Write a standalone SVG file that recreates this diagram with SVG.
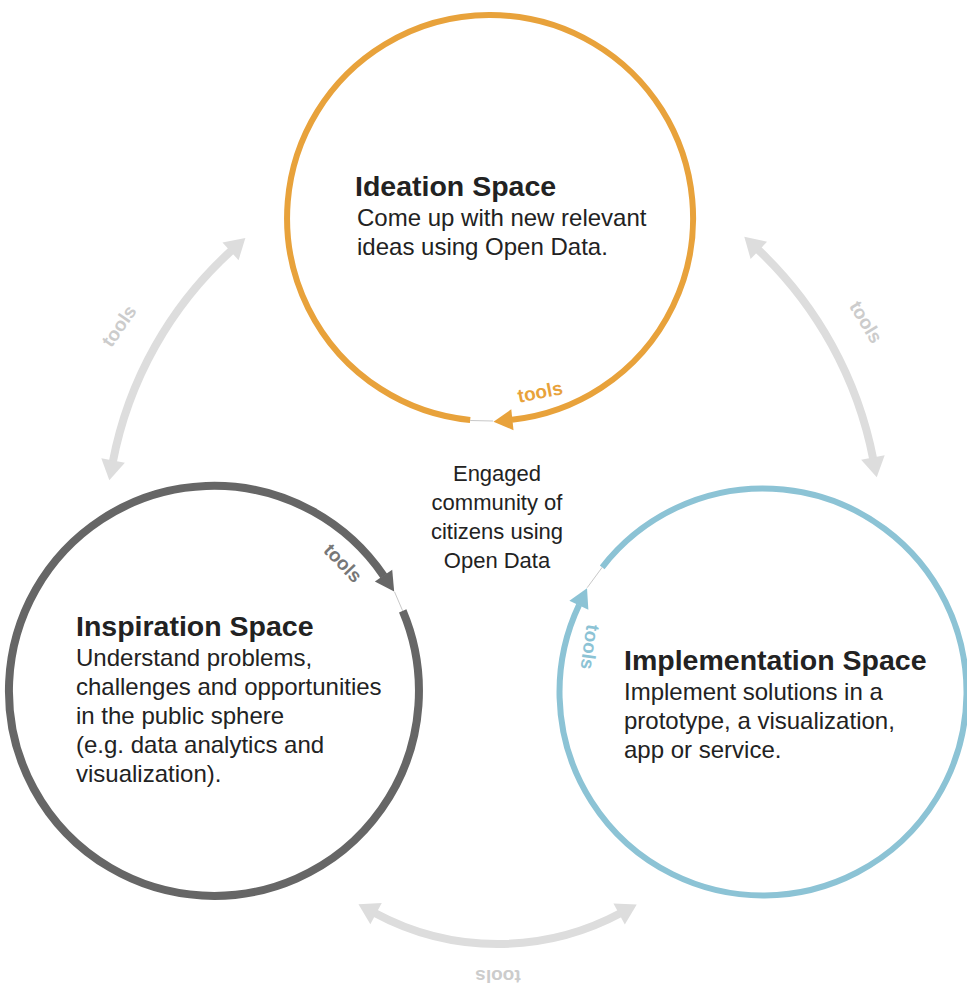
<svg xmlns="http://www.w3.org/2000/svg" width="967" height="985" viewBox="0 0 967 985">
<style>
.t{font-family:"Liberation Sans",Arial,sans-serif;fill:#222;font-size:24px}
.c{font-size:22px}
.h{font-weight:bold;font-size:28.5px}
.tl{font-family:"Liberation Sans",Arial,sans-serif;font-weight:bold;font-size:19px}
.ga{fill:none;stroke:#dddddd;stroke-width:8}
.gap{fill:none;stroke:#c8c8c8;stroke-width:1}
</style>
<defs>
<marker id="mg" viewBox="-2 -13 24 26" markerWidth="24" markerHeight="26" refX="2" refY="0" orient="auto-start-reverse" markerUnits="userSpaceOnUse"><polygon points="0,-12 20,0 0,12" fill="#dddddd"/></marker>
<marker id="mo" viewBox="-1 -11 21 22" markerWidth="21" markerHeight="22" refX="0.5" refY="0" orient="auto" markerUnits="userSpaceOnUse"><polygon points="0,-10.5 19,0 0,10.5" fill="#e8a23b"/></marker>
<marker id="md" viewBox="-1 -11 21 22" markerWidth="21" markerHeight="22" refX="0.5" refY="0" orient="auto" markerUnits="userSpaceOnUse"><polygon points="0,-10.5 19,0 0,10.5" fill="#666666"/></marker>
<marker id="mb" viewBox="-1 -11 21 22" markerWidth="21" markerHeight="22" refX="0.5" refY="0" orient="auto" markerUnits="userSpaceOnUse"><polygon points="0,-10.5 19,0 0,10.5" fill="#8cc3d5"/></marker>
</defs>
<rect width="967" height="985" fill="#ffffff"/>
<g id="connectors">
<path class="ga" d="M 232 250 A 383 383 0 0 0 112.7 462.5" marker-start="url(#mg)" marker-end="url(#mg)"/>
<path class="ga" d="M 757.4 249 A 391.5 391.5 0 0 1 873.3 459.5" marker-start="url(#mg)" marker-end="url(#mg)"/>
<path class="ga" d="M 374.3 912.7 A 260 260 0 0 0 620.9 913.1" marker-start="url(#mg)" marker-end="url(#mg)"/>
<text class="tl" fill="#cccccc" text-anchor="middle" dominant-baseline="central" transform="translate(119,326) rotate(-55)">tools</text>
<text class="tl" fill="#cccccc" text-anchor="middle" dominant-baseline="central" transform="translate(866,322) rotate(59)">tools</text>
<text class="tl" fill="#cccccc" text-anchor="middle" dominant-baseline="central" transform="translate(498,976) rotate(180)">tools</text>
</g>
<g id="ideation">
<path d="M 470.2 420 A 203 203 0 1 1 511.9 419.8" fill="none" stroke="#e8a23b" stroke-width="6" marker-end="url(#mo)"/>
<line class="gap" x1="470.2" y1="420.5" x2="493" y2="421"/>
<text class="tl" fill="#e8a23b" text-anchor="middle" dominant-baseline="central" transform="translate(540,392) rotate(-11)">tools</text>
<text class="t h" x="355" y="196">Ideation Space</text>
<text class="t" x="357" y="226">Come up with new relevant</text>
<text class="t" x="357" y="255">ideas using Open Data.</text>
</g>
<g id="community">
<text class="t c" text-anchor="middle" x="497" y="481">Engaged</text>
<text class="t c" text-anchor="middle" x="497" y="510">community of</text>
<text class="t c" text-anchor="middle" x="497" y="539">citizens using</text>
<text class="t c" text-anchor="middle" x="497" y="568">Open Data</text>
</g>
<g id="inspiration">
<path d="M 402.7 610.9 A 205 205 0 1 1 383.8 576.1" fill="none" stroke="#666666" stroke-width="8" marker-end="url(#md)"/>
<line class="gap" x1="394.5" y1="591.8" x2="402.7" y2="610.9"/>
<text class="tl" fill="#777777" text-anchor="middle" dominant-baseline="central" transform="translate(343,563) rotate(46)">tools</text>
<text class="t h" x="76" y="636">Inspiration Space</text>
<text class="t" x="76" y="666">Understand problems,</text>
<text class="t" x="76" y="695">challenges and opportunities</text>
<text class="t" x="76" y="724">in the public sphere</text>
<text class="t" x="76" y="753">(e.g. data analytics and</text>
<text class="t" x="76" y="782">visualization).</text>
</g>
<g id="implementation">
<path d="M 602.2 567.3 A 203.5 203.5 0 1 1 579.1 604.9" fill="none" stroke="#8cc3d5" stroke-width="6" marker-end="url(#mb)"/>
<line class="gap" x1="587.2" y1="587.7" x2="602.2" y2="567.3"/>
<text class="tl" fill="#8cc3d5" text-anchor="middle" dominant-baseline="central" transform="translate(590,647) rotate(98)">tools</text>
<text class="t h" x="624" y="670">Implementation Space</text>
<text class="t" x="624" y="700">Implement solutions in a</text>
<text class="t" x="624" y="729">prototype, a visualization,</text>
<text class="t" x="624" y="758">app or service.</text>
</g>
</svg>
